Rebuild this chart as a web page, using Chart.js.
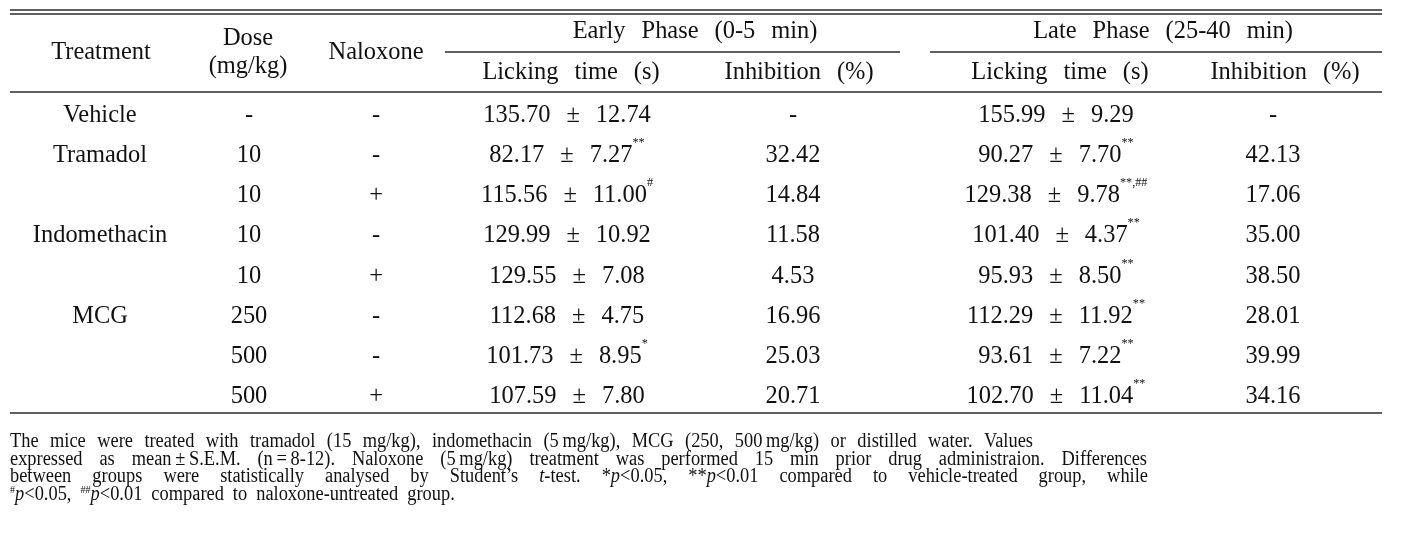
<!DOCTYPE html>
<html>
<head>
<meta charset="utf-8">
<script src="https://cdn.jsdelivr.net/npm/chart.js@4.4.0/dist/chart.umd.min.js"></script>
<style>
  body { margin: 0; background: #fff; }
</style>
</head>
<body>
<canvas id="tbl" width="1401" height="540"></canvas>
<script>
// table data
const rowKeys = ['r1', 'r2', 'r3', 'r4', 'r5', 'r6', 'r7', 'r8'];
const treatments = ['Vehicle', 'Tramadol', '', 'Indomethacin', '', 'MCG', '', ''];
const doses = ['-', '10', '10', '10', '10', '250', '500', '500'];
const naloxone = ['-', '-', '+', '-', '+', '-', '-', '+'];
const earlyMean = [135.70, 82.17, 115.56, 129.99, 129.55, 112.68, 101.73, 107.59];
const earlySem = [12.74, 7.27, 11.00, 10.92, 7.08, 4.75, 8.95, 7.80];
const earlySig = ['', '**', '#', '', '', '', '*', ''];
const earlyInhib = [null, 32.42, 14.84, 11.58, 4.53, 16.96, 25.03, 20.71];
const lateMean = [155.99, 90.27, 129.38, 101.40, 95.93, 112.29, 93.61, 102.70];
const lateSem = [9.29, 7.70, 9.78, 4.37, 8.50, 11.92, 7.22, 11.04];
const lateSig = ['', '**', '**,##', '**', '**', '**', '**', '**'];
const lateInhib = [null, 42.13, 17.06, 35.00, 38.50, 28.01, 39.99, 34.16];

const notes = [
  'The mice were treated with tramadol (15 mg/kg), indomethacin (5\u2009mg/kg), MCG (250, 500\u2009mg/kg) or distilled water. Values',
  'expressed as mean\u2009\u00b1\u2009S.E.M. (n\u2009=\u20098-12). Naloxone (5\u2009mg/kg) treatment was performed 15 min prior drug administraion. Differences',
  'between groups were statistically analysed by Student\u2019s {i:t}-test. *{i:p}<0.05, **{i:p}<0.01 compared to vehicle-treated group, while',
  '{s:#}{i:p}<0.05, {s:##}{i:p}<0.01 compared to naloxone-untreated group.'
];

// layout (fractions of the table width, offsets in px)
const colX = [0.0656, 0.1742, 0.2668, 0.4060, 0.5707, 0.7624, 0.9206];
const headX = { treat: 0.0663, dose: 0.1735, nal: 0.2668, early: 0.4993, late: 0.8404,
  eLick: 0.4089, eInh: 0.5751, lLick: 0.7653, lInh: 0.9293 };
const noteEnd = [1033, 1147, 1148, 0];

const FAM = '"Liberation Serif", "Times New Roman", serif';
const TBL = { size: 26, sx: 0.94, supSize: 13, supRise: 16, gap: 16 };
const NOTE = { size: 20, sx: 0.92, supSize: 11, supRise: 7, gap: 9 };

function fontFor(kind, st) {
  if (kind === 'i') return 'italic ' + st.size + 'px ' + FAM;
  if (kind === 's') return st.supSize + 'px ' + FAM;
  return st.size + 'px ' + FAM;
}

function parseWord(s) {
  const segs = [];
  let last = 0;
  s.replace(/\{([is]):([^}]*)\}/g, function(m, k, t, off){
    if (off > last) segs.push([s.slice(last, off), 'n']);
    segs.push([t, k]);
    last = off + m.length;
    return m;
  });
  if (last < s.length) segs.push([s.slice(last), 'n']);
  return segs;
}
let words = function(str){
  return str.split(' ').filter(function(w){ return w.length; }).map(parseWord);
};

function wordWidth(ctx, segs, st) {
  let w = 0;
  segs.forEach(function(sg){
    ctx.font = fontFor(sg[1], st);
    w += ctx.measureText(sg[0]).width * st.sx;
  });
  return w;
}

function drawLine(ctx, ws, x, base, st, gap, align) {
  const widths = ws.map(function(w){ return wordWidth(ctx, w, st); });
  const total = widths.reduce(function(a, b){ return a + b; }, 0) + gap * (ws.length - 1);
  let px = align === 'center' ? x - total / 2 : x;
  ctx.textAlign = 'left';
  ctx.textBaseline = 'alphabetic';
  ws.forEach(function(w){
    w.forEach(function(sg){
      ctx.font = fontFor(sg[1], st);
      ctx.save();
      ctx.translate(px, sg[1] === 's' ? base - st.supRise : base);
      ctx.scale(st.sx, 1);
      ctx.fillText(sg[0], 0, 0);
      ctx.restore();
      px += ctx.measureText(sg[0]).width * st.sx;
    });
    px += gap;
  });
}

function cellText(c, r) {
  const sup = function(s){ return s ? '{s:' + s + '}' : ''; };
  switch (c) {
    case 0: return treatments[r];
    case 1: return doses[r];
    case 2: return naloxone[r];
    case 3: return earlyMean[r].toFixed(2) + ' \u00b1 ' + earlySem[r].toFixed(2) + sup(earlySig[r]);
    case 4: return earlyInhib[r] === null ? '-' : earlyInhib[r].toFixed(2);
    case 5: return lateMean[r].toFixed(2) + ' \u00b1 ' + lateSem[r].toFixed(2) + sup(lateSig[r]);
    case 6: return lateInhib[r] === null ? '-' : lateInhib[r].toFixed(2);
  }
  return '';
}

const tablePlugin = {
  id: 'tableText',
  afterDatasetsDraw(chart) {
    const ctx = chart.ctx;
    const area = chart.chartArea;
    const xs = chart.scales.x;
    const X = function(f){ return xs.getPixelForValue(f); };
    ctx.save();

    // rules
    ctx.strokeStyle = '#2b2b2b';
    const rule = function(x1, x2, y, lw){
      ctx.lineWidth = lw;
      ctx.beginPath(); ctx.moveTo(x1, y); ctx.lineTo(x2, y); ctx.stroke();
    };
    rule(area.left, area.right, area.top - 82, 1.6);
    rule(area.left, area.right, area.top - 78, 1.6);
    rule(X(0.317), X(0.6487), area.top - 40, 1.3);
    rule(X(0.6706), area.right, area.top - 40, 1.3);
    rule(area.left, area.right, area.top, 1.6);
    rule(area.left, area.right, area.bottom, 1.6);

    // header
    ctx.fillStyle = '#111';
    const head = function(t, f, dy){ drawLine(ctx, words(t), X(f), area.top + dy, TBL, TBL.gap, 'center'); };
    head('Treatment', headX.treat, -33);
    head('Dose', headX.dose, -47);
    head('(mg/kg)', headX.dose, -19);
    head('Naloxone', headX.nal, -33);
    head('Early Phase (0-5 min)', headX.early, -54);
    head('Late Phase (25-40 min)', headX.late, -54);
    head('Licking time (s)', headX.eLick, -13);
    head('Inhibition (%)', headX.eInh, -13);
    head('Licking time (s)', headX.lLick, -13);
    head('Inhibition (%)', headX.lInh, -13);

    // body cells, placed at the points computed by the scales
    chart.data.datasets.forEach(function(ds, c){
      chart.getDatasetMeta(c).data.forEach(function(pt, r){
        const t = cellText(c, r);
        if (t) drawLine(ctx, words(t), pt.x, pt.y + 10, TBL, TBL.gap, 'center');
      });
    });

    // footnote, justified except the last line
    notes.forEach(function(line, i){
      const ws = words(line);
      const base = area.bottom + 34 + i * 17.7;
      let gap = NOTE.gap;
      if (noteEnd[i]) {
        const sum = ws.reduce(function(a, w){ return a + wordWidth(ctx, w, NOTE); }, 0);
        gap = (noteEnd[i] - area.left - sum) / (ws.length - 1);
      }
      drawLine(ctx, ws, area.left, base, NOTE, gap, 'left');
    });
    ctx.restore();
  }
};

new Chart(document.getElementById('tbl'), {
  type: 'scatter',
  data: {
    datasets: colX.map(function(cx, c){
      return {
        label: 'col' + c,
        data: rowKeys.map(function(k){ return { x: cx, y: k }; }),
        pointRadius: 0
      };
    })
  },
  options: {
    responsive: false,
    animation: false,
    events: [],
    layout: { padding: { left: 10, right: 19, top: 92, bottom: 127 } },
    scales: {
      x: { type: 'linear', min: 0, max: 1, display: false },
      y: { type: 'category', labels: rowKeys, offset: true, display: false }
    },
    plugins: { legend: { display: false }, tooltip: { enabled: false } }
  },
  plugins: [tablePlugin]
});
</script>
</body>
</html>
